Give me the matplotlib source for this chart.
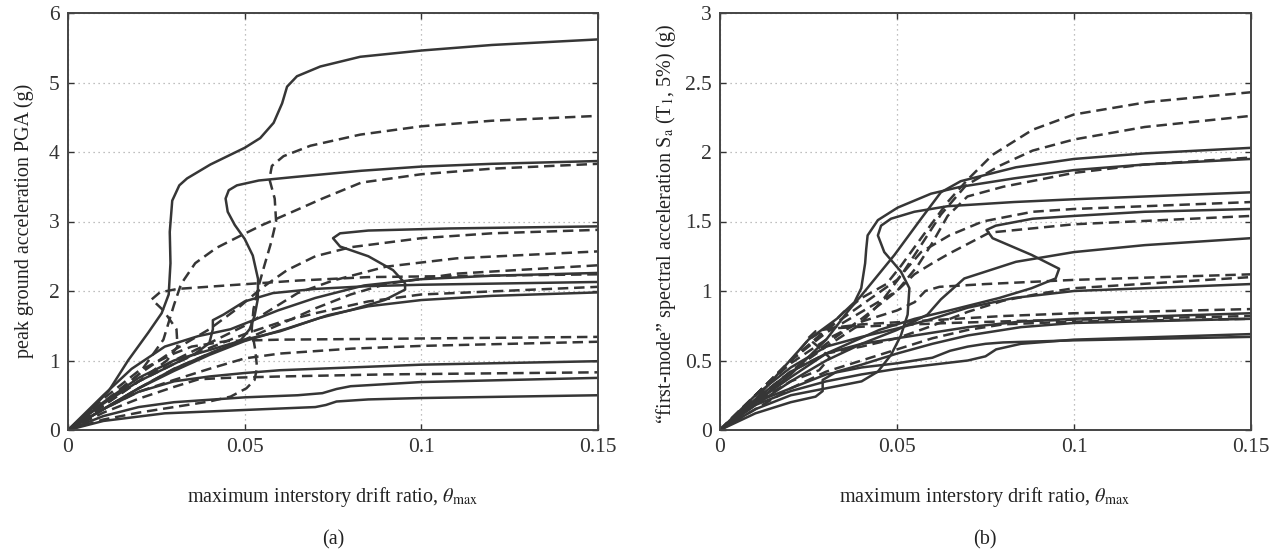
import matplotlib
matplotlib.use("Agg")
import matplotlib.pyplot as plt
import numpy as np

plt.rcParams['font.family'] = ['Liberation Serif', 'DejaVu Serif']
plt.rcParams['mathtext.fontset'] = 'stix'

# ---- panel (a): PGA, solid curves
pga_s1 = [(0, 0), (0.005, 0.22), (0.0115, 0.56), (0.017, 1.0), (0.0227, 1.4), (0.0265, 1.68), (0.0285, 1.95),
          (0.029, 2.4), (0.0288, 2.85), (0.0295, 3.3), (0.0315, 3.52), (0.0337, 3.62), (0.0403, 3.82), (0.05, 4.06),
          (0.0544, 4.2), (0.0582, 4.42), (0.0606, 4.7), (0.062, 4.94), (0.0648, 5.09), (0.0714, 5.23),
          (0.0827, 5.37), (0.1, 5.46), (0.12, 5.54), (0.15, 5.62)]
pga_s2 = [(0, 0), (0.01, 0.3), (0.02, 0.6), (0.03, 0.88), (0.04, 1.1), (0.046, 1.22), (0.049, 1.3),
          (0.0514, 1.45), (0.0528, 1.64), (0.0537, 1.88), (0.0538, 2.17), (0.0523, 2.51), (0.05, 2.75),
          (0.0472, 2.95), (0.0452, 3.14), (0.0446, 3.33), (0.0455, 3.45), (0.0478, 3.52), (0.054, 3.59),
          (0.064, 3.64), (0.083, 3.73), (0.1, 3.79), (0.12, 3.83), (0.15, 3.87)]
pga_s3 = [(0, 0), (0.01, 0.3), (0.02, 0.6), (0.03, 0.85), (0.04, 1.08), (0.05, 1.28), (0.062, 1.46),
          (0.0711, 1.61), (0.0804, 1.73), (0.0896, 1.87), (0.0954, 2.02), (0.0954, 2.11), (0.092, 2.3),
          (0.085, 2.5), (0.077, 2.64), (0.075, 2.76), (0.077, 2.83), (0.085, 2.87), (0.108, 2.9), (0.15, 2.93)]
pga_s4 = [(0, 0), (0.01, 0.5), (0.018, 0.88), (0.0274, 1.2), (0.0368, 1.35), (0.046, 1.45), (0.0594, 1.72),
          (0.07, 1.9), (0.0838, 2.08), (0.1, 2.17), (0.12, 2.22), (0.15, 2.26)]
pga_s5 = [(0, 0), (0.01, 0.38), (0.02, 0.7), (0.03, 0.95), (0.036, 1.1), (0.04, 1.25), (0.041, 1.45),
          (0.041, 1.58), (0.044, 1.66), (0.05, 1.85), (0.058, 1.97), (0.07, 2.03), (0.085, 2.07), (0.1, 2.09),
          (0.15, 2.13)]
pga_s6 = [(0, 0), (0.01, 0.4), (0.02, 0.75), (0.03, 1.0), (0.04, 1.15), (0.05, 1.3), (0.06, 1.42),
          (0.0734, 1.65), (0.085, 1.78), (0.1, 1.87), (0.12, 1.93), (0.15, 1.98)]
pga_s7 = [(0, 0), (0.01, 0.3), (0.02, 0.55), (0.03, 0.7), (0.04, 0.77), (0.05, 0.82), (0.06, 0.86),
          (0.08, 0.9), (0.1, 0.94), (0.15, 0.99)]
pga_s8 = [(0, 0), (0.01, 0.2), (0.02, 0.33), (0.03, 0.4), (0.05, 0.47), (0.065, 0.5), (0.072, 0.53),
          (0.076, 0.59), (0.08, 0.63), (0.1, 0.69), (0.15, 0.75)]
pga_s9 = [(0, 0), (0.01, 0.13), (0.0274, 0.24), (0.0556, 0.3), (0.07, 0.33), (0.073, 0.36), (0.076, 0.41),
          (0.085, 0.44), (0.1, 0.46), (0.15, 0.5)]

# ---- panel (a): PGA, dashed curves
pga_d1 = [(0, 0), (0.01, 0.15), (0.02, 0.25), (0.03, 0.33), (0.04, 0.41), (0.046, 0.48), (0.0505, 0.6),
          (0.0528, 0.72), (0.0535, 0.9), (0.053, 1.15), (0.052, 1.45), (0.0525, 1.74), (0.054, 2.08),
          (0.0556, 2.37), (0.0575, 2.7), (0.0589, 3.0), (0.0585, 3.33), (0.057, 3.61), (0.0577, 3.8),
          (0.061, 3.94), (0.0686, 4.09), (0.0827, 4.25), (0.1, 4.37), (0.12, 4.45), (0.15, 4.52)]
pga_d2 = [(0, 0), (0.01, 0.35), (0.02, 0.8), (0.027, 1.3), (0.03, 1.8), (0.032, 2.1), (0.036, 2.4),
          (0.042, 2.62), (0.049, 2.8), (0.055, 2.95), (0.064, 3.15), (0.072, 3.33), (0.083, 3.56), (0.1, 3.68),
          (0.12, 3.76), (0.15, 3.83)]
pga_d3 = [(0, 0), (0.01, 0.4), (0.02, 0.8), (0.03, 1.15), (0.04, 1.45), (0.048, 1.75), (0.055, 2.05),
          (0.062, 2.3), (0.07, 2.5), (0.08, 2.63), (0.1, 2.76), (0.12, 2.83), (0.15, 2.88)]
pga_d4 = [(0, 0), (0.01, 0.35), (0.02, 0.7), (0.03, 1.0), (0.04, 1.25), (0.05, 1.5), (0.058, 1.75),
          (0.065, 1.97), (0.075, 2.15), (0.09, 2.35), (0.11, 2.47), (0.15, 2.57)]
pga_d5 = [(0, 0), (0.01, 0.3), (0.02, 0.6), (0.03, 0.88), (0.04, 1.1), (0.05, 1.3), (0.06, 1.52),
          (0.07, 1.75), (0.08, 1.95), (0.09, 2.1), (0.11, 2.25), (0.15, 2.37)]
pga_d6 = [(0, 0), (0.01, 0.4), (0.02, 0.7), (0.028, 1.0), (0.031, 1.2), (0.0307, 1.45), (0.027, 1.72),
          (0.0237, 1.88), (0.026, 1.98), (0.031, 2.03), (0.045, 2.08), (0.065, 2.15), (0.085, 2.2),
          (0.15, 2.24)]
pga_d7 = [(0, 0), (0.01, 0.35), (0.02, 0.7), (0.03, 0.95), (0.04, 1.18), (0.05, 1.38), (0.06, 1.55),
          (0.07, 1.68), (0.085, 1.85), (0.1, 1.95), (0.15, 2.06)]
pga_d8 = [(0, 0), (0.01, 0.45), (0.02, 0.85), (0.03, 1.1), (0.035, 1.2), (0.045, 1.28), (0.06, 1.3),
          (0.085, 1.31), (0.15, 1.34)]
pga_d9 = [(0, 0), (0.01, 0.3), (0.02, 0.55), (0.03, 0.72), (0.04, 0.88), (0.05, 1.03), (0.06, 1.1),
          (0.08, 1.17), (0.1, 1.21), (0.15, 1.27)]
pga_d10 = [(0, 0), (0.01, 0.25), (0.02, 0.45), (0.03, 0.62), (0.037, 0.73), (0.045, 0.75), (0.06, 0.77),
           (0.09, 0.8), (0.15, 0.83)]

# ---- panel (b): Sa(T1), solid curves
sa_s1 = [(0, 0), (0.01, 0.2), (0.02, 0.4), (0.03, 0.65), (0.036, 0.85), (0.04, 0.97), (0.0493, 1.26),
         (0.0568, 1.52), (0.0624, 1.71), (0.068, 1.79), (0.0742, 1.83), (0.0836, 1.89), (0.1, 1.95),
         (0.12, 1.99), (0.15, 2.03)]
sa_s2 = [(0, 0), (0.01, 0.22), (0.018, 0.45), (0.025, 0.65), (0.033, 0.8), (0.038, 0.92), (0.0399, 1.02),
         (0.041, 1.2), (0.0413, 1.3), (0.0417, 1.4), (0.0446, 1.51), (0.0502, 1.6), (0.0596, 1.7),
         (0.068, 1.75), (0.083, 1.81), (0.1, 1.87), (0.12, 1.91), (0.15, 1.95)]
sa_s3 = [(0, 0), (0.01, 0.15), (0.02, 0.25), (0.03, 0.3), (0.04, 0.35), (0.0446, 0.42), (0.0483, 0.54),
         (0.0511, 0.68), (0.053, 0.83), (0.0535, 1.02), (0.0511, 1.14), (0.0464, 1.28), (0.0446, 1.4),
         (0.0455, 1.47), (0.0483, 1.52), (0.0549, 1.57), (0.0643, 1.61), (0.083, 1.64), (0.1, 1.66),
         (0.15, 1.71)]
sa_s4 = [(0, 0), (0.01, 0.2), (0.02, 0.38), (0.03, 0.55), (0.045, 0.72), (0.055, 0.8), (0.0648, 0.86),
         (0.0789, 0.95), (0.088, 1.02), (0.0948, 1.09), (0.0958, 1.16), (0.088, 1.26), (0.077, 1.38),
         (0.0753, 1.44), (0.0779, 1.47), (0.0883, 1.52), (0.1, 1.54), (0.12, 1.57), (0.15, 1.59)]
sa_s5 = [(0, 0), (0.01, 0.18), (0.02, 0.35), (0.03, 0.5), (0.04, 0.62), (0.05, 0.72), (0.0586, 0.83),
         (0.0624, 0.94), (0.069, 1.09), (0.0836, 1.21), (0.1, 1.28), (0.12, 1.33), (0.15, 1.38)]
sa_s6 = [(0, 0), (0.01, 0.25), (0.02, 0.45), (0.03, 0.6), (0.04, 0.67), (0.05, 0.73), (0.06, 0.8),
         (0.07, 0.88), (0.083, 0.95), (0.1, 1.0), (0.15, 1.05)]
sa_s7 = [(0, 0), (0.01, 0.22), (0.02, 0.42), (0.03, 0.55), (0.04, 0.62), (0.05, 0.66), (0.06, 0.7),
         (0.07, 0.74), (0.085, 0.78), (0.1, 0.8), (0.15, 0.84)]
sa_s8 = [(0, 0), (0.01, 0.12), (0.02, 0.2), (0.027, 0.24), (0.029, 0.28), (0.029, 0.36), (0.033, 0.42),
         (0.04, 0.47), (0.05, 0.55), (0.06, 0.62), (0.07, 0.68), (0.085, 0.74), (0.1, 0.77), (0.15, 0.8)]
sa_s9 = [(0, 0), (0.01, 0.18), (0.02, 0.28), (0.03, 0.35), (0.04, 0.4), (0.05, 0.44), (0.06, 0.47),
         (0.07, 0.5), (0.075, 0.53), (0.078, 0.58), (0.085, 0.62), (0.1, 0.65), (0.15, 0.69)]
sa_s10 = [(0, 0), (0.01, 0.2), (0.02, 0.3), (0.03, 0.4), (0.04, 0.45), (0.05, 0.48), (0.06, 0.52),
          (0.065, 0.57), (0.07, 0.6), (0.075, 0.62), (0.08, 0.63), (0.1, 0.645), (0.15, 0.67)]

# ---- panel (b): Sa(T1), dashed curves
sa_d1 = [(0, 0), (0.01, 0.25), (0.02, 0.5), (0.03, 0.72), (0.035, 0.85), (0.04, 0.95), (0.047, 1.05),
         (0.0511, 1.18), (0.0568, 1.38), (0.0643, 1.64), (0.0699, 1.8), (0.077, 1.98), (0.0883, 2.16),
         (0.1, 2.27), (0.121, 2.36), (0.15, 2.43)]
sa_d2 = [(0, 0), (0.01, 0.22), (0.02, 0.42), (0.03, 0.6), (0.039, 0.75), (0.0455, 0.92), (0.0511, 1.11),
         (0.0568, 1.33), (0.0624, 1.55), (0.0695, 1.76), (0.0789, 1.9), (0.0883, 2.01), (0.1, 2.09),
         (0.12, 2.18), (0.15, 2.26)]
sa_d3 = [(0, 0), (0.01, 0.25), (0.02, 0.5), (0.03, 0.7), (0.04, 0.85), (0.05, 1.0), (0.0558, 1.18),
         (0.0596, 1.33), (0.0643, 1.54), (0.0699, 1.68), (0.08, 1.75), (0.1, 1.85), (0.12, 1.91), (0.15, 1.96)]
sa_d4 = [(0, 0), (0.01, 0.25), (0.02, 0.5), (0.03, 0.72), (0.04, 0.9), (0.05, 1.08), (0.0568, 1.28),
         (0.0648, 1.4), (0.0742, 1.5), (0.0883, 1.57), (0.1, 1.59), (0.15, 1.64)]
sa_d5 = [(0, 0), (0.01, 0.2), (0.02, 0.42), (0.03, 0.62), (0.04, 0.8), (0.05, 1.0), (0.0549, 1.12),
         (0.06, 1.2), (0.0648, 1.27), (0.0761, 1.42), (0.1, 1.48), (0.15, 1.54)]
sa_d6 = [(0, 0), (0.01, 0.25), (0.02, 0.48), (0.03, 0.65), (0.04, 0.78), (0.05, 0.86), (0.055, 0.92),
         (0.058, 1.0), (0.062, 1.03), (0.075, 1.05), (0.1, 1.08), (0.15, 1.12)]
sa_d7 = [(0, 0), (0.01, 0.22), (0.02, 0.42), (0.03, 0.55), (0.04, 0.6), (0.05, 0.66), (0.06, 0.75),
         (0.07, 0.85), (0.08, 0.93), (0.09, 0.98), (0.1, 1.02), (0.15, 1.1)]
sa_d8 = [(0, 0), (0.01, 0.25), (0.02, 0.5), (0.025, 0.65), (0.03, 0.73), (0.04, 0.76), (0.06, 0.79),
         (0.08, 0.82), (0.1, 0.84), (0.15, 0.87)]
sa_d9 = [(0, 0), (0.01, 0.2), (0.02, 0.35), (0.028, 0.43), (0.031, 0.52), (0.0277, 0.6), (0.0249, 0.66),
         (0.027, 0.71), (0.031, 0.73), (0.045, 0.75), (0.065, 0.77), (0.085, 0.785), (0.15, 0.82)]
sa_d10 = [(0, 0), (0.01, 0.15), (0.02, 0.3), (0.03, 0.42), (0.04, 0.5), (0.05, 0.58), (0.06, 0.66),
          (0.07, 0.72), (0.08, 0.76), (0.1, 0.78), (0.15, 0.8)]

pga_solid = [pga_s1, pga_s2, pga_s3, pga_s4, pga_s5, pga_s6, pga_s7, pga_s8, pga_s9]
pga_dashed = [pga_d1, pga_d2, pga_d3, pga_d4, pga_d5, pga_d6, pga_d7, pga_d8, pga_d9, pga_d10]
sa_solid = [sa_s1, sa_s2, sa_s3, sa_s4, sa_s5, sa_s6, sa_s7, sa_s8, sa_s9, sa_s10]
sa_dashed = [sa_d1, sa_d2, sa_d3, sa_d4, sa_d5, sa_d6, sa_d7, sa_d8, sa_d9, sa_d10]

x_ticks = [0, 0.05, 0.1, 0.15]
x_ticklabels = ['0', '0.05', '0.1', '0.15']
pga_ticks = [0, 1, 2, 3, 4, 5, 6]
pga_ticklabels = ['0', '1', '2', '3', '4', '5', '6']
sa_ticks = [0, 0.5, 1, 1.5, 2, 2.5, 3]
sa_ticklabels = ['0', '0.5', '1', '1.5', '2', '2.5', '3']

line_col = '#363636'
W, H = 1273, 552
fig = plt.figure(figsize=(W / 100, H / 100), dpi=100)


def setup(ax, yticks, yticklabels, ymax):
    ax.set_xlim(0, 0.15)
    ax.set_ylim(0, ymax)
    ax.set_xticks(x_ticks)
    ax.set_xticklabels(x_ticklabels)
    ax.set_yticks(yticks)
    ax.set_yticklabels(yticklabels)
    ax.tick_params(direction='in', length=4, width=1, top=True, right=True,
                   labelsize=15.5, colors='#333333', pad=6)
    ax.grid(True, color='#aaaaaa', linestyle=(0, (1, 3)), linewidth=0.9)
    for sp in ax.spines.values():
        sp.set_color('#444444')
        sp.set_linewidth(1.4)


def draw(ax, solid, dashed):
    for c in solid:
        a = np.array(c)
        ax.plot(a[:, 0], a[:, 1], color=line_col, lw=1.8, solid_joinstyle='round')
    for c in dashed:
        a = np.array(c)
        ax.plot(a[:, 0], a[:, 1], color=line_col, lw=1.8, linestyle=(0, (4.2, 2.3)))


ax1 = fig.add_axes([68 / W, 1 - 430 / H, 530 / W, 417 / H])
setup(ax1, pga_ticks, pga_ticklabels, 6)
draw(ax1, pga_solid, pga_dashed)

ax2 = fig.add_axes([720 / W, 1 - 430 / H, 531 / W, 417 / H])
setup(ax2, sa_ticks, sa_ticklabels, 3)
draw(ax2, sa_solid, sa_dashed)

xlab = r'maximum interstory drift ratio, $\theta_{\mathrm{max}}$'
fig.text(333 / W, 1 - 497 / H, xlab, ha='center', va='center', fontsize=14.5, color='#222222')
fig.text(985 / W, 1 - 497 / H, xlab, ha='center', va='center', fontsize=14.5, color='#222222')
fig.text(333 / W, 1 - 540 / H, '(a)', ha='center', va='center', fontsize=14.5, color='#222222')
fig.text(985 / W, 1 - 540 / H, '(b)', ha='center', va='center', fontsize=14.5, color='#222222')
fig.text(24 / W, 1 - 221 / H, 'peak ground acceleration PGA (g)', rotation=90,
         ha='center', va='center', fontsize=14.5, color='#222222')
fig.text(666 / W, 1 - 224 / H,
         '\u201cfirst-mode\u201d spectral acceleration S$_{\\mathrm{a}}$ (T$_{1}$, 5%) (g)',
         rotation=90, ha='center', va='center', fontsize=14.5, color='#222222')

fig.savefig('out.png', dpi=100)
